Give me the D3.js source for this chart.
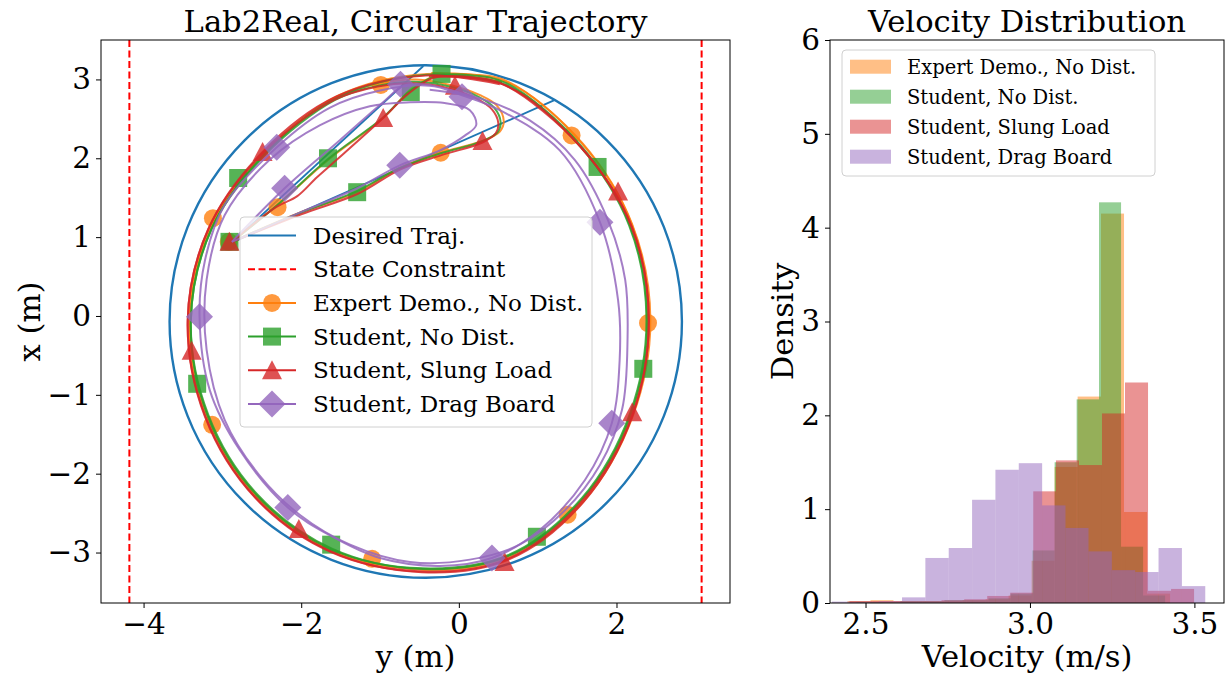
<!DOCTYPE html>
<html>
<head>
<meta charset="utf-8">
<script src="https://cdn.jsdelivr.net/npm/d3@7"></script>
<style>
  body { margin: 0; background: #fff; }
  svg text { font-family: "DejaVu Serif", serif; fill: #000; }
</style>
</head>
<body>
<svg id="fig" width="1225" height="676"></svg>
<script>
// ---------------- data ----------------
const seriesNames = ["Expert Demo., No Dist.", "Student, No Dist.", "Student, Slung Load", "Student, Drag Board"];
const seriesColors = ["#ff7f0e", "#2ca02c", "#d62728", "#9467bd"];
const seriesMarkers = ["circle", "square", "triangle", "diamond"];

// desired trajectory: circle (centre [y, x], radius) plus the two entry legs, metres
const desiredCenter = [-0.42, -0.07];
const desiredRadius = 3.25;
const desiredLegs = [
  [[-2.88, 0.93], [-0.45, 3.17]],
  [[-2.88, 0.93], [1.22, 2.74]]
];
const constraintY = [-4.18, 3.08];

// flown trajectories, points are [y, x] in metres; two runs per policy
const expertRuns = [
  [[-2.88,0.94],[-2.30,1.41],[-1.66,1.98],[-0.96,2.51],[-0.62,2.86],[-0.28,3.05],[0.20,3.06],[0.63,2.97],[1.57,2.19],[2.20,1.16],[2.43,-0.05],[2.21,-1.26],[1.59,-2.34],[0.65,-3.06],[-0.45,-3.22],[-1.62,-2.96],[-2.56,-2.28],[-3.19,-1.26],[-3.41,-0.05],[-3.14,1.13],[-2.46,2.07],[-1.52,2.80],[-0.40,3.07],[0.55,2.97]],
  [[-2.88,0.94],[-2.02,1.31],[-1.29,1.57],[-0.75,1.88],[-0.23,2.07],[0.30,2.22],[0.52,2.34],[0.57,2.47],[0.48,2.67],[0.27,2.80],[-0.11,2.93],[-0.55,3.00],[-1.00,2.95],[-1.58,2.76],[-2.48,2.05],[-3.16,1.10],[-3.42,-0.06],[-3.20,-1.27],[-2.57,-2.29],[-1.63,-2.97],[-0.46,-3.21],[0.64,-3.04],[1.57,-2.32],[2.19,-1.24],[2.41,-0.04],[2.19,1.17],[1.56,2.19],[0.62,2.96],[-0.35,3.08]]
];
const studentRuns = [
  [[-2.88,0.94],[-2.31,1.40],[-1.66,1.99],[-0.98,2.50],[-0.63,2.84],[-0.30,3.04],[0.18,3.05],[0.61,2.95],[1.54,2.17],[2.17,1.15],[2.39,-0.05],[2.18,-1.25],[1.57,-2.32],[0.64,-3.04],[-0.45,-3.21],[-1.61,-2.95],[-2.55,-2.27],[-3.18,-1.25],[-3.40,-0.05],[-3.13,1.12],[-2.46,2.06],[-1.54,2.77],[-0.41,3.06],[0.55,2.96]],
  [[-2.88,0.94],[-2.03,1.30],[-1.30,1.58],[-0.76,1.87],[-0.24,2.06],[0.28,2.21],[0.49,2.33],[0.53,2.46],[0.45,2.64],[0.25,2.78],[-0.12,2.91],[-0.56,2.97],[-1.02,2.92],[-1.57,2.74],[-2.46,2.04],[-3.14,1.10],[-3.40,-0.06],[-3.19,-1.26],[-2.56,-2.28],[-1.62,-2.96],[-0.46,-3.20],[0.63,-3.03],[1.56,-2.31],[2.17,-1.24],[2.38,-0.04],[2.16,1.15],[1.53,2.16],[0.60,2.93],[-0.36,3.06]]
];
const slungRuns = [
  [[-2.88,0.94],[-2.32,1.38],[-2.05,1.52],[-1.80,1.76],[-1.55,1.98],[-0.96,2.51],[-0.64,2.82],[-0.32,3.02],[0.15,3.03],[0.58,2.93],[1.55,2.14],[2.20,1.12],[2.41,-0.07],[2.20,-1.27],[1.58,-2.36],[0.63,-3.09],[-0.47,-3.25],[-1.64,-2.98],[-2.59,-2.29],[-3.22,-1.26],[-3.44,-0.05],[-3.17,1.12],[-2.49,2.08],[-1.56,2.78],[-0.42,3.05],[0.52,2.94]],
  [[-2.88,0.94],[-2.00,1.29],[-1.28,1.55],[-0.74,1.86],[-0.22,2.04],[0.30,2.20],[0.47,2.32],[0.50,2.45],[0.42,2.62],[0.22,2.76],[-0.14,2.89],[-0.57,2.95],[-1.03,2.91],[-1.60,2.73],[-2.50,2.05],[-3.18,1.10],[-3.44,-0.06],[-3.22,-1.28],[-2.58,-2.31],[-1.63,-2.99],[-0.46,-3.24],[0.62,-3.08],[1.57,-2.34],[2.20,-1.26],[2.41,-0.04],[2.19,1.13],[1.55,2.14],[0.60,2.92],[-0.38,3.04]]
];
const dragRuns = [
  [[-2.88,0.94],[-2.21,1.62],[-1.51,2.23],[-0.95,2.72],[-0.70,2.92],[-0.37,2.93],[0.04,2.80],[0.52,2.61],[1.28,2.10],[1.79,1.19],[2.02,0.20],[2.04,-0.56],[1.94,-1.36],[1.60,-2.08],[1.03,-2.71],[0.42,-3.07],[-0.24,-3.17],[-1.00,-3.07],[-1.64,-2.78],[-2.17,-2.43],[-2.78,-1.70],[-3.16,-0.94],[-3.29,-0.01],[-3.22,0.71],[-2.97,1.41],[-2.31,2.14],[-1.64,2.64],[-1.00,2.86],[-0.37,2.92],[0.27,2.74]],
  [[-2.88,0.94],[-2.02,1.31],[-1.29,1.62],[-0.75,1.91],[-0.24,2.10],[0.08,2.29],[0.22,2.42],[0.14,2.61],[-0.18,2.70],[-0.62,2.71],[-1.13,2.66],[-1.76,2.42],[-2.40,1.98],[-2.97,1.28],[-3.20,0.46],[-3.20,-0.43],[-2.97,-1.32],[-2.53,-2.02],[-2.02,-2.52],[-1.38,-2.90],[-0.62,-3.12],[0.14,-3.09],[0.77,-2.90],[1.35,-2.46],[1.79,-1.89],[2.07,-1.19],[2.14,-0.30],[2.11,0.46],[1.89,1.22],[1.47,1.98],[0.90,2.48],[0.27,2.76],[-0.37,2.87]]
];

// marker positions along each trajectory, [y, x] metres
const expertMarks = [[-0.99,2.93],[-0.23,2.07],[-2.30,1.38],[-3.12,1.24],[-2.92,0.94],[1.43,2.29],[2.40,-0.09],[-3.13,-1.38],[-1.10,-3.08],[1.38,-2.52]];
const studentMarks = [[-0.22,3.07],[-0.61,2.84],[-1.66,2.00],[-1.29,1.57],[-2.80,1.75],[-2.91,0.94],[1.76,1.89],[2.34,-0.67],[-3.32,-0.86],[-1.62,-2.90],[0.99,-2.80]];
const slungMarks = [[-0.05,2.92],[-0.96,2.51],[0.30,2.22],[-2.49,2.08],[-2.91,0.94],[2.02,1.58],[-3.39,-0.44],[-2.03,-2.70],[2.20,-1.22],[0.58,-3.12]];
const dragMarks = [[-0.74,2.94],[0.04,2.78],[-2.31,2.14],[-2.21,1.62],[-0.75,1.91],[1.79,1.19],[-3.29,-0.01],[1.94,-1.36],[-2.17,-2.43],[0.42,-3.07]];

const xTicksLeft = [-4, -2, 0, 2];
const yTicksLeft = [-3, -2, -1, 0, 1, 2, 3];

// velocity histograms (bin edges in m/s, densities)
const expertEdges = [2.445,2.515,2.585,2.655,2.725,2.795,2.865,2.935,3.005,3.075,3.145,3.216,3.286,3.356,3.426];
const expertDensity = [0.02,0.03,0.02,0.02,0.02,0.03,0.04,0.08,0.45,1.45,2.20,4.15,0.97,0.10];
const studentEdges = [2.472,2.539,2.606,2.673,2.740,2.807,2.874,2.941,3.008,3.075,3.142,3.210,3.277,3.344,3.411];
const studentDensity = [0.01,0.01,0.02,0.02,0.03,0.03,0.05,0.10,0.56,1.50,2.17,4.27,0.60,0.08];
const slungEdges = [2.451,2.521,2.591,2.661,2.731,2.800,2.870,2.940,3.010,3.079,3.149,3.219,3.289,3.359,3.429,3.499];
const slungDensity = [0.02,0.02,0.02,0.02,0.03,0.04,0.075,0.11,1.19,1.52,1.47,2.02,2.35,0.13,0.15];
const dragEdges = [2.398,2.469,2.540,2.611,2.682,2.753,2.824,2.895,2.966,3.037,3.108,3.178,3.249,3.320,3.391,3.462,3.533];
const dragDensity = [0.015,0.015,0.02,0.06,0.48,0.586,1.10,1.42,1.49,1.04,0.80,0.55,0.35,0.33,0.586,0.18];

const xTicksRight = [2.5, 3.0, 3.5];
const yTicksRight = [0, 1, 2, 3, 4, 5, 6];

// ---------------- layout ----------------
const svg = d3.select("#fig");
const L = { left: 101, right: 730, top: 40, bottom: 603 };
const R = { left: 830, right: 1224, top: 40, bottom: 603 };

const xL = d3.scaleLinear().domain([-4.54, 3.44]).range([L.left, L.right]);
const yL = d3.scaleLinear().domain([-3.64, 3.50]).range([L.bottom, L.top]);
const xR = d3.scaleLinear().domain([2.392, 3.59]).range([R.left, R.right]);
const yR = d3.scaleLinear().domain([0, 6]).range([R.bottom, R.top]);

const defs = svg.append("defs");
defs.append("clipPath").attr("id", "clipL").append("rect")
  .attr("x", L.left).attr("y", L.top).attr("width", L.right - L.left).attr("height", L.bottom - L.top);
defs.append("clipPath").attr("id", "clipR").append("rect")
  .attr("x", R.left).attr("y", R.top).attr("width", R.right - R.left).attr("height", R.bottom - R.top);

const TICK_FONT = 29.5, LABEL_FONT = 30.6;

function styleAxis(g) {
  g.select(".domain").remove();
  g.selectAll(".tick line").attr("stroke", "#000").attr("stroke-width", 1);
  g.selectAll(".tick text").style("font-family", "'DejaVu Serif', serif").style("font-size", TICK_FONT + "px").attr("fill", "#000");
}

// ---------------- left panel: trajectories ----------------
const gL = svg.append("g");
const plotL = gL.append("g").attr("clip-path", "url(#clipL)");

// desired trajectory
plotL.append("ellipse")
  .attr("cx", xL(desiredCenter[0])).attr("cy", yL(desiredCenter[1]))
  .attr("rx", xL(desiredCenter[0] + desiredRadius) - xL(desiredCenter[0]))
  .attr("ry", yL(desiredCenter[1]) - yL(desiredCenter[1] + desiredRadius))
  .attr("fill", "none").attr("stroke", "#1f77b4").attr("stroke-width", 2.4);
const lineL = d3.line().x(d => xL(d[0])).y(d => yL(d[1]));
desiredLegs.forEach(leg => {
  plotL.append("path").attr("d", lineL(leg)).attr("fill", "none")
    .attr("stroke", "#1f77b4").attr("stroke-width", 1.8);
});

// state constraints
constraintY.forEach(c => {
  plotL.append("line").attr("x1", xL(c)).attr("x2", xL(c)).attr("y1", L.top).attr("y2", L.bottom)
    .attr("stroke", "#ff0000").attr("stroke-width", 2).attr("stroke-dasharray", "7,3.5");
});

const smooth = d3.line().x(d => xL(d[0])).y(d => yL(d[1])).curve(d3.curveCatmullRom.alpha(0.5));

function markerPath(type) {
  switch (type) {
    case "circle": return d3.symbol(d3.symbolCircle, Math.PI * 9 * 9)();
    case "square": return "M-9,-9H9V9H-9Z";
    case "triangle": return "M0,-10L10,9L-10,9Z";
    case "diamond": return "M0,-13.5L13.5,0L0,13.5L-13.5,0Z";
  }
}

const runsBySeries = [expertRuns, studentRuns, slungRuns, dragRuns];
const marksBySeries = [expertMarks, studentMarks, slungMarks, dragMarks];

runsBySeries.forEach((runs, i) => {
  const g = plotL.append("g");
  runs.forEach(run => {
    g.append("path").attr("d", smooth(run)).attr("fill", "none")
      .attr("stroke", seriesColors[i]).attr("stroke-width", 2).attr("stroke-opacity", 0.85);
  });
  g.selectAll("path.mk").data(marksBySeries[i]).join("path").attr("class", "mk")
    .attr("transform", d => `translate(${xL(d[0])},${yL(d[1])})`)
    .attr("d", markerPath(seriesMarkers[i]))
    .attr("fill", seriesColors[i]).attr("fill-opacity", 0.8);
});

// frame and axes
gL.append("rect").attr("x", L.left).attr("y", L.top).attr("width", L.right - L.left).attr("height", L.bottom - L.top)
  .attr("fill", "none").attr("stroke", "#000").attr("stroke-width", 1);
gL.append("g").attr("transform", `translate(0,${L.bottom})`)
  .call(d3.axisBottom(xL).tickValues(xTicksLeft).tickSize(5).tickPadding(5).tickFormat(d3.format("d")))
  .call(styleAxis);
gL.append("g").attr("transform", `translate(${L.left},0)`)
  .call(d3.axisLeft(yL).tickValues(yTicksLeft).tickSize(5).tickPadding(5).tickFormat(d3.format("d")))
  .call(styleAxis);

gL.append("text").attr("x", (L.left + L.right) / 2).attr("y", 32).attr("text-anchor", "middle")
  .style("font-size", LABEL_FONT + "px").text("Lab2Real, Circular Trajectory");
gL.append("text").attr("x", (L.left + L.right) / 2).attr("y", 667).attr("text-anchor", "middle")
  .style("font-size", LABEL_FONT + "px").text("y (m)");
gL.append("text").attr("transform", `translate(40,${(L.top + L.bottom) / 2}) rotate(-90)`).attr("text-anchor", "middle")
  .style("font-size", LABEL_FONT + "px").text("x (m)");

// legend (left)
const legL = gL.append("g");
legL.append("rect").attr("x", 240).attr("y", 217).attr("width", 352).attr("height", 210).attr("rx", 4)
  .attr("fill", "#fff").attr("fill-opacity", 0.8).attr("stroke", "#d0d0d0");
const legLItems = [
  { label: "Desired Traj.", color: "#1f77b4", dash: null, marker: null },
  { label: "State Constraint", color: "#ff0000", dash: "7,3.5", marker: null },
  ...seriesNames.map((n, i) => ({ label: n, color: seriesColors[i], dash: null, marker: seriesMarkers[i] }))
];
legLItems.forEach((it, k) => {
  const cy = 235.5 + k * 33.7;
  legL.append("line").attr("x1", 248).attr("x2", 296).attr("y1", cy).attr("y2", cy)
    .attr("stroke", it.color).attr("stroke-width", 2)
    .attr("stroke-dasharray", it.dash);
  if (it.marker) {
    legL.append("path").attr("transform", `translate(272,${cy})`).attr("d", markerPath(it.marker))
      .attr("fill", it.color).attr("fill-opacity", 0.8);
  }
  legL.append("text").attr("x", 313).attr("y", cy).attr("dy", "0.35em")
    .style("font-size", "23px").text(it.label);
});

// ---------------- right panel: velocity histograms ----------------
const gR = svg.append("g");
const plotR = gR.append("g").attr("clip-path", "url(#clipR)");
const histEdges = [expertEdges, studentEdges, slungEdges, dragEdges];
const histDensity = [expertDensity, studentDensity, slungDensity, dragDensity];

histDensity.forEach((dens, i) => {
  const edges = histEdges[i];
  plotR.append("g").selectAll("rect").data(dens).join("rect")
    .attr("x", (d, j) => xR(edges[j]))
    .attr("width", (d, j) => xR(edges[j + 1]) - xR(edges[j]))
    .attr("y", d => yR(d))
    .attr("height", d => yR(0) - yR(d))
    .attr("fill", seriesColors[i]).attr("fill-opacity", 0.5);
});

gR.append("rect").attr("x", R.left).attr("y", R.top).attr("width", R.right - R.left).attr("height", R.bottom - R.top)
  .attr("fill", "none").attr("stroke", "#000").attr("stroke-width", 1);
gR.append("g").attr("transform", `translate(0,${R.bottom})`)
  .call(d3.axisBottom(xR).tickValues(xTicksRight).tickSize(5).tickPadding(5).tickFormat(d3.format(".1f")))
  .call(styleAxis);
gR.append("g").attr("transform", `translate(${R.left},0)`)
  .call(d3.axisLeft(yR).tickValues(yTicksRight).tickSize(5).tickPadding(5).tickFormat(d3.format("d")))
  .call(styleAxis);

gR.append("text").attr("x", (R.left + R.right) / 2).attr("y", 32).attr("text-anchor", "middle")
  .style("font-size", LABEL_FONT + "px").text("Velocity Distribution");
gR.append("text").attr("x", (R.left + R.right) / 2).attr("y", 667).attr("text-anchor", "middle")
  .style("font-size", LABEL_FONT + "px").text("Velocity (m/s)");
gR.append("text").attr("transform", `translate(793,${(R.top + R.bottom) / 2}) rotate(-90)`).attr("text-anchor", "middle")
  .style("font-size", LABEL_FONT + "px").text("Density");

// legend (right)
const legR = gR.append("g");
legR.append("rect").attr("x", 842).attr("y", 50).attr("width", 313).attr("height", 126).attr("rx", 4)
  .attr("fill", "#fff").attr("fill-opacity", 0.8).attr("stroke", "#d0d0d0");
seriesNames.forEach((n, i) => {
  const cy = 66.7 + i * 30;
  legR.append("rect").attr("x", 850).attr("y", cy - 7).attr("width", 41).attr("height", 14)
    .attr("fill", seriesColors[i]).attr("fill-opacity", 0.5);
  legR.append("text").attr("x", 907).attr("y", cy).attr("dy", "0.35em")
    .style("font-size", "19.5px").text(n);
});
</script>
</body>
</html>
